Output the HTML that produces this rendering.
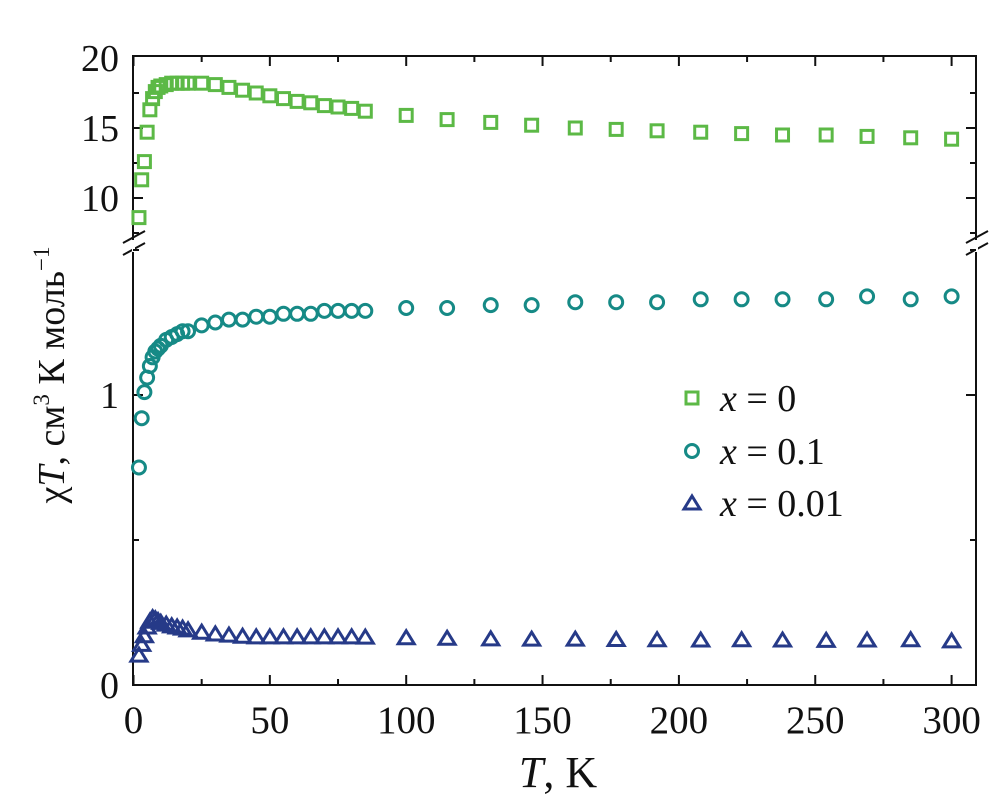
<!DOCTYPE html>
<html><head><meta charset="utf-8"><style>
body{margin:0;background:#fff;}
svg text{font-family:"Liberation Serif",serif;fill:#111;}
</style></head><body>
<svg id="chart" width="1004" height="796" viewBox="0 0 1004 796" xmlns="http://www.w3.org/2000/svg"></svg>
<script>
const temps=[2,3,4,5,6,7,8,9,10,12,14,16,18,20,25,30,35,40,45,50,55,60,65,70,75,80,85,100,115,131,146,162,177,192,208,223,238,254,269,285,300];
const seriesX0=[8.6,11.3,12.6,14.7,16.3,17.1,17.6,17.9,18.0,18.1,18.2,18.2,18.2,18.2,18.2,18.1,17.9,17.7,17.5,17.3,17.1,16.9,16.8,16.6,16.5,16.4,16.2,15.9,15.6,15.4,15.2,15.0,14.9,14.8,14.7,14.6,14.5,14.5,14.4,14.3,14.2];
const seriesX01=[0.75,0.92,1.01,1.06,1.1,1.13,1.15,1.16,1.17,1.19,1.2,1.21,1.22,1.22,1.24,1.25,1.26,1.26,1.27,1.27,1.28,1.28,1.28,1.29,1.29,1.29,1.29,1.3,1.3,1.31,1.31,1.32,1.32,1.32,1.33,1.33,1.33,1.33,1.34,1.33,1.34];
const seriesX001=[0.103,0.14,0.17,0.2,0.22,0.232,0.228,0.222,0.216,0.21,0.204,0.2,0.196,0.19,0.182,0.176,0.172,0.168,0.166,0.166,0.166,0.166,0.166,0.166,0.166,0.166,0.165,0.163,0.161,0.159,0.158,0.158,0.157,0.156,0.155,0.156,0.155,0.154,0.155,0.156,0.152];
const xTicks=[0,50,100,150,200,250,300];
const upperTicks=[10,15,20];
const lowerTicks=[0,1];

const svg=document.getElementById('chart');
const NS='http://www.w3.org/2000/svg';
const L=133,R=976,T=56,B=685;
const xs=v=>133.5+v*2.727;
const yUp=v=>58+(20-v)*14;
const yLo=v=>685-v*290;
function el(tag,attrs,parent){const e=document.createElementNS(NS,tag);for(const k in attrs)e.setAttribute(k,attrs[k]);(parent||svg).appendChild(e);return e;}

const frame=el('g',{});


el('path',{d:`M${L},240 L${L},${T} L${R},${T} L${R},240 M${L},252 L${L},${B} L${R},${B} L${R},252`,fill:'none',stroke:'#111','stroke-width':2},frame);
el('path',{d:`M${L-10},243 L${L+12},231 M${L-10},255 L${L+12},243 M${R-10},243 L${R+12},231 M${R-10},255 L${R+12},243`,stroke:'#111','stroke-width':2},frame);
el('rect',{x:L-1,y:241,width:3,height:10,fill:'#fff'},frame);
el('rect',{x:R-1,y:241,width:3,height:10,fill:'#fff'},frame);

const xax=el('g',{});


xTicks.forEach(v=>{
 const x=xs(v);
 el('line',{x1:x,y1:B,x2:x,y2:B-10,stroke:'#111','stroke-width':2},xax);
 el('line',{x1:x,y1:T,x2:x,y2:T+10,stroke:'#111','stroke-width':2},xax);
 const t=el('text',{x:x,y:733,'font-size':39,'text-anchor':'middle'},xax);t.textContent=v;
 
 
 if(v<300){const xm=xs(v+25);
 el('line',{x1:xm,y1:B,x2:xm,y2:B-6,stroke:'#111','stroke-width':2},xax);
 el('line',{x1:xm,y1:T,x2:xm,y2:T+6,stroke:'#111','stroke-width':2},xax);}
});
const yax=el('g',{});


[7.5,10,12.5,15,17.5].forEach(v=>{
 const y=yUp(v),len=(v%5===0)?10:6;
 el('line',{x1:L,y1:y,x2:L+len,y2:y,stroke:'#111','stroke-width':2},yax);
 el('line',{x1:R,y1:y,x2:R-len,y2:y,stroke:'#111','stroke-width':2},yax);
});
upperTicks.forEach(v=>{const t=el('text',{x:119,y:yUp(v)+13,'font-size':38,'text-anchor':'end'},yax);t.textContent=v;
 
 });
[0.5,1,1.5].forEach(v=>{
 const y=yLo(v),len=(v%1===0)?10:6;
 el('line',{x1:L,y1:y,x2:L+len,y2:y,stroke:'#111','stroke-width':2},yax);
 el('line',{x1:R,y1:y,x2:R-len,y2:y,stroke:'#111','stroke-width':2},yax);
});
lowerTicks.forEach(v=>{const t=el('text',{x:119,y:yLo(v)+13,'font-size':38,'text-anchor':'end'},yax);t.textContent=v;
 
 });

const xt=el('text',{x:558,y:787,'font-size':44,'text-anchor':'middle'});
xt.innerHTML='<tspan font-style="italic">T</tspan>, K';


const yt=el('text',{transform:'translate(64,375) rotate(-90)','font-size':38,'text-anchor':'middle'});
yt.innerHTML='χ<tspan font-style="italic">T</tspan>, см<tspan font-size="23" dy="-15">3</tspan><tspan dy="15"> К моль</tspan><tspan font-size="23" dy="-15">−1</tspan>';



function marker(g,type,x,y,c){
 if(type==='sq')el('rect',{x:x-6,y:y-6,width:12,height:12,fill:'none',stroke:c,'stroke-width':3},g);
 else if(type==='ci')el('circle',{cx:x,cy:y,r:6.5,fill:'none',stroke:c,'stroke-width':3},g);
 else el('path',{d:`M${x},${y-7} L${x+8},${y+6} L${x-8},${y+6} Z`,fill:'none',stroke:c,'stroke-width':3,'stroke-linejoin':'miter'},g);
}
const gs=el('g',{});
temps.forEach((t,i)=>marker(gs,'sq',xs(t),yUp(seriesX0[i]),'#5cb946'));
const gc=el('g',{});
temps.forEach((t,i)=>marker(gc,'ci',xs(t),yLo(seriesX01[i]),'#168a86'));
const gt=el('g',{});
temps.forEach((t,i)=>marker(gt,'tr',xs(t),yLo(seriesX001[i]),'#263a88'));

const lg=el('g',{});
[['sq','#5cb946','0',398],['ci','#168a86','0.1',451],['tr','#263a88','0.01',503]].forEach(([m,c,l,y])=>{
 const e=el('g',{},lg);
 
 
 marker(e,m,692,y,c);
 const t=el('text',{x:720,y:y+13,'font-size':38},e);
 t.innerHTML='<tspan font-style="italic">x</tspan> = '+l;
});
</script>
</body></html>
